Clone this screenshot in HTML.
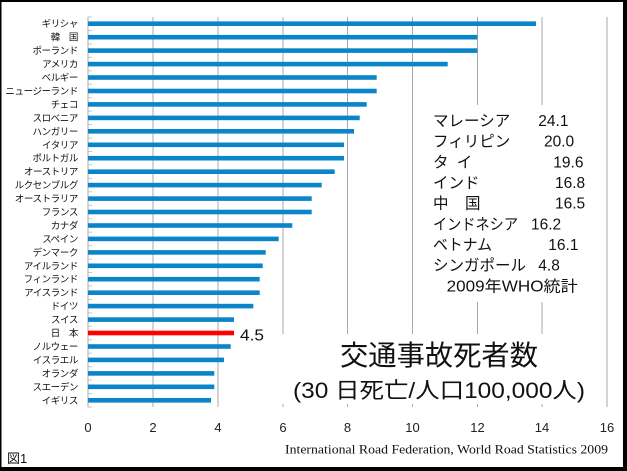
<!DOCTYPE html>
<html><head><meta charset="utf-8"><style>
html,body{margin:0;padding:0;background:#fff;}
svg{display:block;}
text{font-family:"Liberation Sans","Noto Sans CJK JP",sans-serif;}
</style></head><body>
<svg width="627" height="471" viewBox="0 0 627 471" xmlns="http://www.w3.org/2000/svg">
<rect x="0" y="0" width="627" height="471" fill="#fff"/>
<!-- gridlines -->
<g stroke="#a8a8a8" stroke-width="1">
<line x1="88" y1="17" x2="88" y2="407"/>
<line x1="153" y1="17" x2="153" y2="407"/>
<line x1="218" y1="17" x2="218" y2="407"/>
<line x1="283" y1="17" x2="283" y2="407"/>
<line x1="347.5" y1="17" x2="347.5" y2="407"/>
<line x1="412.5" y1="17" x2="412.5" y2="407"/>
<line x1="477.5" y1="17" x2="477.5" y2="407"/>
<line x1="542" y1="17" x2="542" y2="407"/>
<line x1="607" y1="17" x2="607" y2="407"/>
</g>
<!-- y ticks -->
<g stroke="#c4c4c4" stroke-width="1">
<line x1="88" x2="92" y1="17" y2="17"/><line x1="88" x2="92" y1="30.45" y2="30.45"/><line x1="88" x2="92" y1="43.9" y2="43.9"/><line x1="88" x2="92" y1="57.3" y2="57.3"/><line x1="88" x2="92" y1="70.8" y2="70.8"/><line x1="88" x2="92" y1="84.2" y2="84.2"/><line x1="88" x2="92" y1="97.7" y2="97.7"/><line x1="88" x2="92" y1="111.1" y2="111.1"/><line x1="88" x2="92" y1="124.6" y2="124.6"/><line x1="88" x2="92" y1="138" y2="138"/><line x1="88" x2="92" y1="151.5" y2="151.5"/><line x1="88" x2="92" y1="164.9" y2="164.9"/><line x1="88" x2="92" y1="178.4" y2="178.4"/><line x1="88" x2="92" y1="191.8" y2="191.8"/><line x1="88" x2="92" y1="205.3" y2="205.3"/><line x1="88" x2="92" y1="218.7" y2="218.7"/><line x1="88" x2="92" y1="232.2" y2="232.2"/><line x1="88" x2="92" y1="245.6" y2="245.6"/><line x1="88" x2="92" y1="259.1" y2="259.1"/><line x1="88" x2="92" y1="272.5" y2="272.5"/><line x1="88" x2="92" y1="286" y2="286"/><line x1="88" x2="92" y1="299.4" y2="299.4"/><line x1="88" x2="92" y1="312.9" y2="312.9"/><line x1="88" x2="92" y1="326.3" y2="326.3"/><line x1="88" x2="92" y1="339.8" y2="339.8"/><line x1="88" x2="92" y1="353.2" y2="353.2"/><line x1="88" x2="92" y1="366.7" y2="366.7"/><line x1="88" x2="92" y1="380.1" y2="380.1"/><line x1="88" x2="92" y1="393.6" y2="393.6"/><line x1="88" x2="92" y1="407" y2="407"/>
</g>
<!-- white boxes covering gridlines -->
<rect x="420" y="105" width="182" height="197" fill="#fff"/>
<rect x="262" y="334" width="340" height="70" fill="#fff"/>
<!-- bars -->
<g fill="#0a85c9">
<rect x="88" y="21.4" width="448" height="4.6"/>
<rect x="88" y="34.9" width="389.3" height="4.6"/>
<rect x="88" y="48.3" width="389.3" height="4.6"/>
<rect x="88" y="61.8" width="359.7" height="4.6"/>
<rect x="88" y="75.2" width="288.7" height="4.6"/>
<rect x="88" y="88.7" width="288.7" height="4.6"/>
<rect x="88" y="102.1" width="278.7" height="4.6"/>
<rect x="88" y="115.6" width="271.7" height="4.6"/>
<rect x="88" y="129" width="266" height="4.6"/>
<rect x="88" y="142.5" width="256" height="4.6"/>
<rect x="88" y="155.9" width="256" height="4.6"/>
<rect x="88" y="169.4" width="246.7" height="4.6"/>
<rect x="88" y="182.8" width="233.7" height="4.6"/>
<rect x="88" y="196.3" width="223.7" height="4.6"/>
<rect x="88" y="209.7" width="223.7" height="4.6"/>
<rect x="88" y="223.2" width="204.3" height="4.6"/>
<rect x="88" y="236.6" width="190.7" height="4.6"/>
<rect x="88" y="250.1" width="177.7" height="4.6"/>
<rect x="88" y="263.5" width="174.7" height="4.6"/>
<rect x="88" y="276.9" width="171.7" height="4.6"/>
<rect x="88" y="290.4" width="171.7" height="4.6"/>
<rect x="88" y="303.8" width="165.3" height="4.6"/>
<rect x="88" y="317.3" width="146" height="4.6"/>
<rect x="88" y="344.2" width="142.7" height="4.6"/>
<rect x="88" y="357.6" width="136" height="4.6"/>
<rect x="88" y="371.1" width="126.3" height="4.6"/>
<rect x="88" y="384.5" width="126.3" height="4.6"/>
<rect x="88" y="398" width="123" height="4.6"/>
</g>
<rect x="88" y="330.7" width="146" height="4.6" fill="#ff0000"/>
<!-- y labels -->
<g font-size="9.5" fill="#111" text-anchor="end" letter-spacing="-0.4">
<text x="78" y="27.2">ギリシャ</text>
<text x="78" y="40.7">韓　国</text>
<text x="78" y="54.1">ポーランド</text>
<text x="78" y="67.6">アメリカ</text>
<text x="78" y="81">ベルギー</text>
<text x="78" y="94.5">ニュージーランド</text>
<text x="78" y="107.9">チェコ</text>
<text x="78" y="121.4">スロベニア</text>
<text x="78" y="134.8">ハンガリー</text>
<text x="78" y="148.3">イタリア</text>
<text x="78" y="161.7">ポルトガル</text>
<text x="78" y="175.2">オーストリア</text>
<text x="78" y="188.6">ルクセンブルグ</text>
<text x="78" y="202.1">オーストラリア</text>
<text x="78" y="215.5">フランス</text>
<text x="78" y="229">カナダ</text>
<text x="78" y="242.4">スペイン</text>
<text x="78" y="255.9">デンマーク</text>
<text x="78" y="269.3">アイルランド</text>
<text x="78" y="282.7">フィンランド</text>
<text x="78" y="296.2">アイスランド</text>
<text x="78" y="309.6">ドイツ</text>
<text x="78" y="323.1">スイス</text>
<text x="78" y="336.5">日　本</text>
<text x="78" y="350">ノルウェー</text>
<text x="78" y="363.4">イスラエル</text>
<text x="78" y="376.9">オランダ</text>
<text x="78" y="390.3">スエーデン</text>
<text x="78" y="403.8">イギリス</text>
</g>
<!-- x labels -->
<g font-size="13" fill="#222" text-anchor="middle">
<text x="88" y="432">0</text>
<text x="153" y="432">2</text>
<text x="218" y="432">4</text>
<text x="283" y="432">6</text>
<text x="347.5" y="432">8</text>
<text x="412.5" y="432">10</text>
<text x="477.5" y="432">12</text>
<text x="542" y="432">14</text>
<text x="607" y="432">16</text>
</g>
<!-- value label -->
<text x="240" y="340.7" font-size="16" fill="#111" textLength="24" lengthAdjust="spacingAndGlyphs">4.5</text>
<!-- text box -->
<g font-size="15.5" fill="#111">
<text x="433" y="126">マレーシア</text><text x="538.3" y="126">24.1</text>
<text x="433" y="146.7">フィリピン</text><text x="544" y="146.7">20.0</text>
<text x="433" y="167.4">タ</text><text x="456.7" y="167.4">イ</text><text x="553.3" y="167.4">19.6</text>
<text x="433" y="188">インド</text><text x="555" y="188">16.8</text>
<text x="433" y="208.7">中</text><text x="465" y="208.7">国</text><text x="555" y="208.7">16.5</text>
<text x="433" y="229.3" textLength="85" lengthAdjust="spacingAndGlyphs">インドネシア</text><text x="531" y="229.3">16.2</text>
<text x="433" y="250" textLength="59" lengthAdjust="spacingAndGlyphs">ベトナム</text><text x="548.3" y="250">16.1</text>
<text x="433" y="270.7">シンガポール</text><text x="538.3" y="270.7">4.8</text>
<text x="446.7" y="291.3" textLength="131" lengthAdjust="spacingAndGlyphs">2009年WHO統計</text>
</g>
<!-- title -->
<text x="340" y="365" font-size="28" fill="#111" textLength="198" lengthAdjust="spacingAndGlyphs">交通事故死者数</text>
<text x="293" y="398" font-size="22" fill="#111" textLength="292" lengthAdjust="spacingAndGlyphs">(30 日死亡/人口100,000人)</text>
<!-- source -->
<text x="285" y="453.3" font-size="13" fill="#111" style="font-family:'Liberation Serif',serif" textLength="323" lengthAdjust="spacingAndGlyphs">International Road Federation, World Road Statistics 2009</text>
<text x="7" y="463" font-size="13" fill="#111">図1</text>
<!-- frame -->
<rect x="0" y="0" width="627" height="2" fill="#000"/>
<rect x="0" y="0" width="1.5" height="471" fill="#000"/>
<rect x="623" y="0" width="4" height="471" fill="#000"/>
<rect x="0" y="467" width="627" height="4" fill="#000"/>
</svg>
</body></html>
